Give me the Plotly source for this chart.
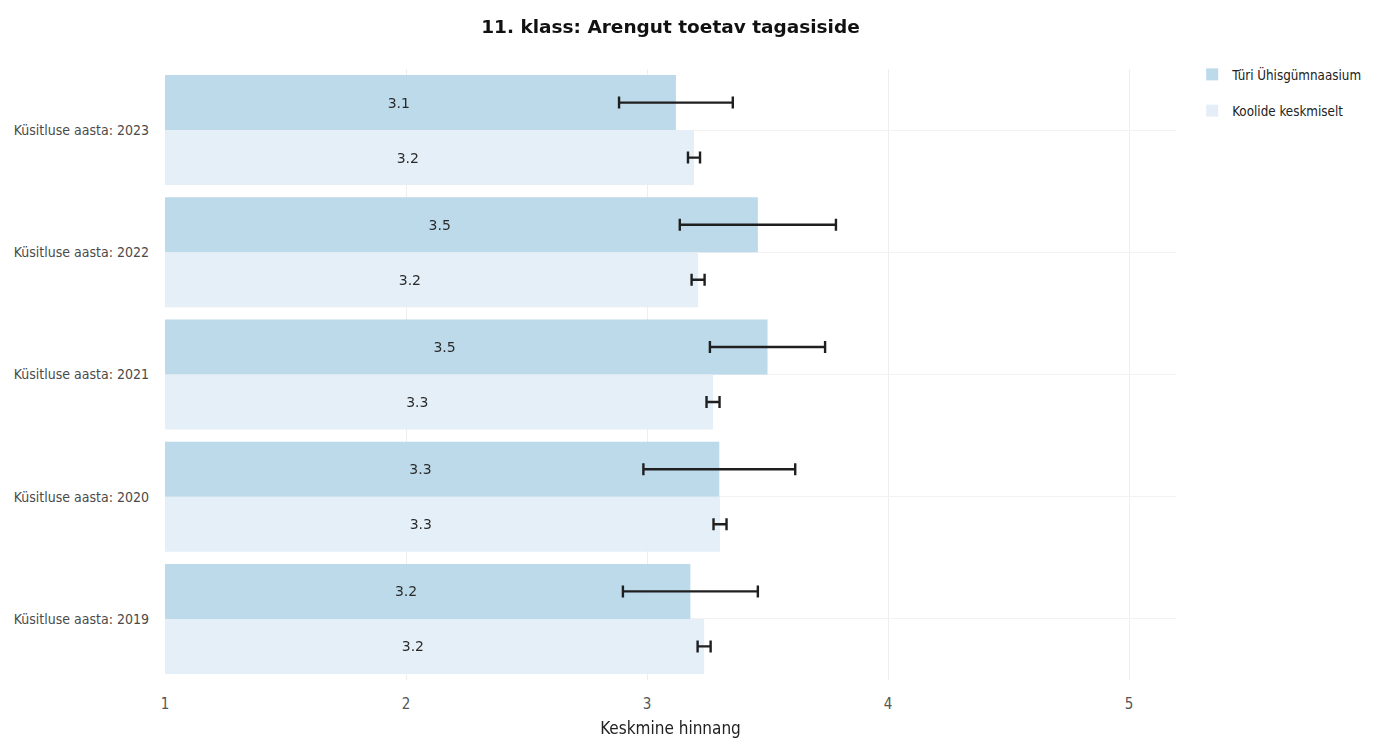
import plotly.graph_objects as go

years = ["Küsitluse aasta: 2023", "Küsitluse aasta: 2022", "Küsitluse aasta: 2021",
         "Küsitluse aasta: 2020", "Küsitluse aasta: 2019"]

school_name = "Türi Ühisgümnaasium"
school_mean = [3.12, 3.46, 3.50, 3.30, 3.18]
school_err = [0.236, 0.324, 0.239, 0.315, 0.28]

avg_name = "Koolide keskmiselt"
avg_mean = [3.195, 3.212, 3.274, 3.303, 3.237]
avg_err = [0.025, 0.027, 0.027, 0.027, 0.027]

school_color = "#b8d8e9"
avg_color = "#e4eef8"
label_font = "DejaVu Sans Condensed, Liberation Sans Narrow, Liberation Sans"

# bars are drawn from a base just left of the visible axis start,
# which puts the value labels where the original had them
BAR_BASE = 0.82

fig = go.Figure()
for name, mean, err, color in [
    (school_name, school_mean, school_err, school_color),
    (avg_name, avg_mean, avg_err, avg_color),
]:
    fig.add_trace(go.Bar(
        name=name, y=years, x=[m - BAR_BASE for m in mean], base=BAR_BASE,
        orientation="h",
        marker=dict(color=color, line=dict(width=0)),
        opacity=0.94,
        text=[f"{v:.1f}" for v in mean],
        textposition="inside", insidetextanchor="middle",
        textfont=dict(family="DejaVu Sans", size=14, color="#1a1a1a"),
        error_x=dict(type="data", array=err, visible=True, color="#111111",
                     thickness=2.4, width=6),
        legendgroup=name,
        hovertemplate="%{y}<br>%{text}<extra>" + name + "</extra>",
    ))

fig.update_layout(
    width=1367, height=730,
    barmode="group", bargap=0.1,
    plot_bgcolor="white", paper_bgcolor="white",
    margin=dict(l=157, r=199, t=61, b=58, autoexpand=False),
    title=dict(text="<b>11. klass: Arengut toetav tagasiside</b>", x=0.5, xref="paper",
               y=0.974, yanchor="middle",
               font=dict(family="DejaVu Sans", size=18.5, color="#111111")),
    font=dict(family=label_font, size=14, color="#4a4a4a"),
    legend=dict(x=1.016, y=1.016, yanchor="top", tracegroupgap=16,
                font=dict(family=label_font, size=13.3, color="#222222")),
    xaxis=dict(range=[1, 5.195], tickvals=[1, 2, 3, 4, 5], showgrid=True,
               gridcolor="#eeeeee", zeroline=False, showline=False, automargin=False,
               ticklabelstandoff=13,
               tickfont=dict(size=15, color="#555555"),
               title=dict(text="Keskmine hinnang", standoff=16,
                          font=dict(size=17, color="#222222"))),
    yaxis=dict(autorange="reversed", showgrid=True, gridcolor="#f2f2f2",
               zeroline=False, showline=False, automargin=False,
               ticklabelstandoff=15),
)

fig.write_html("out.html")
